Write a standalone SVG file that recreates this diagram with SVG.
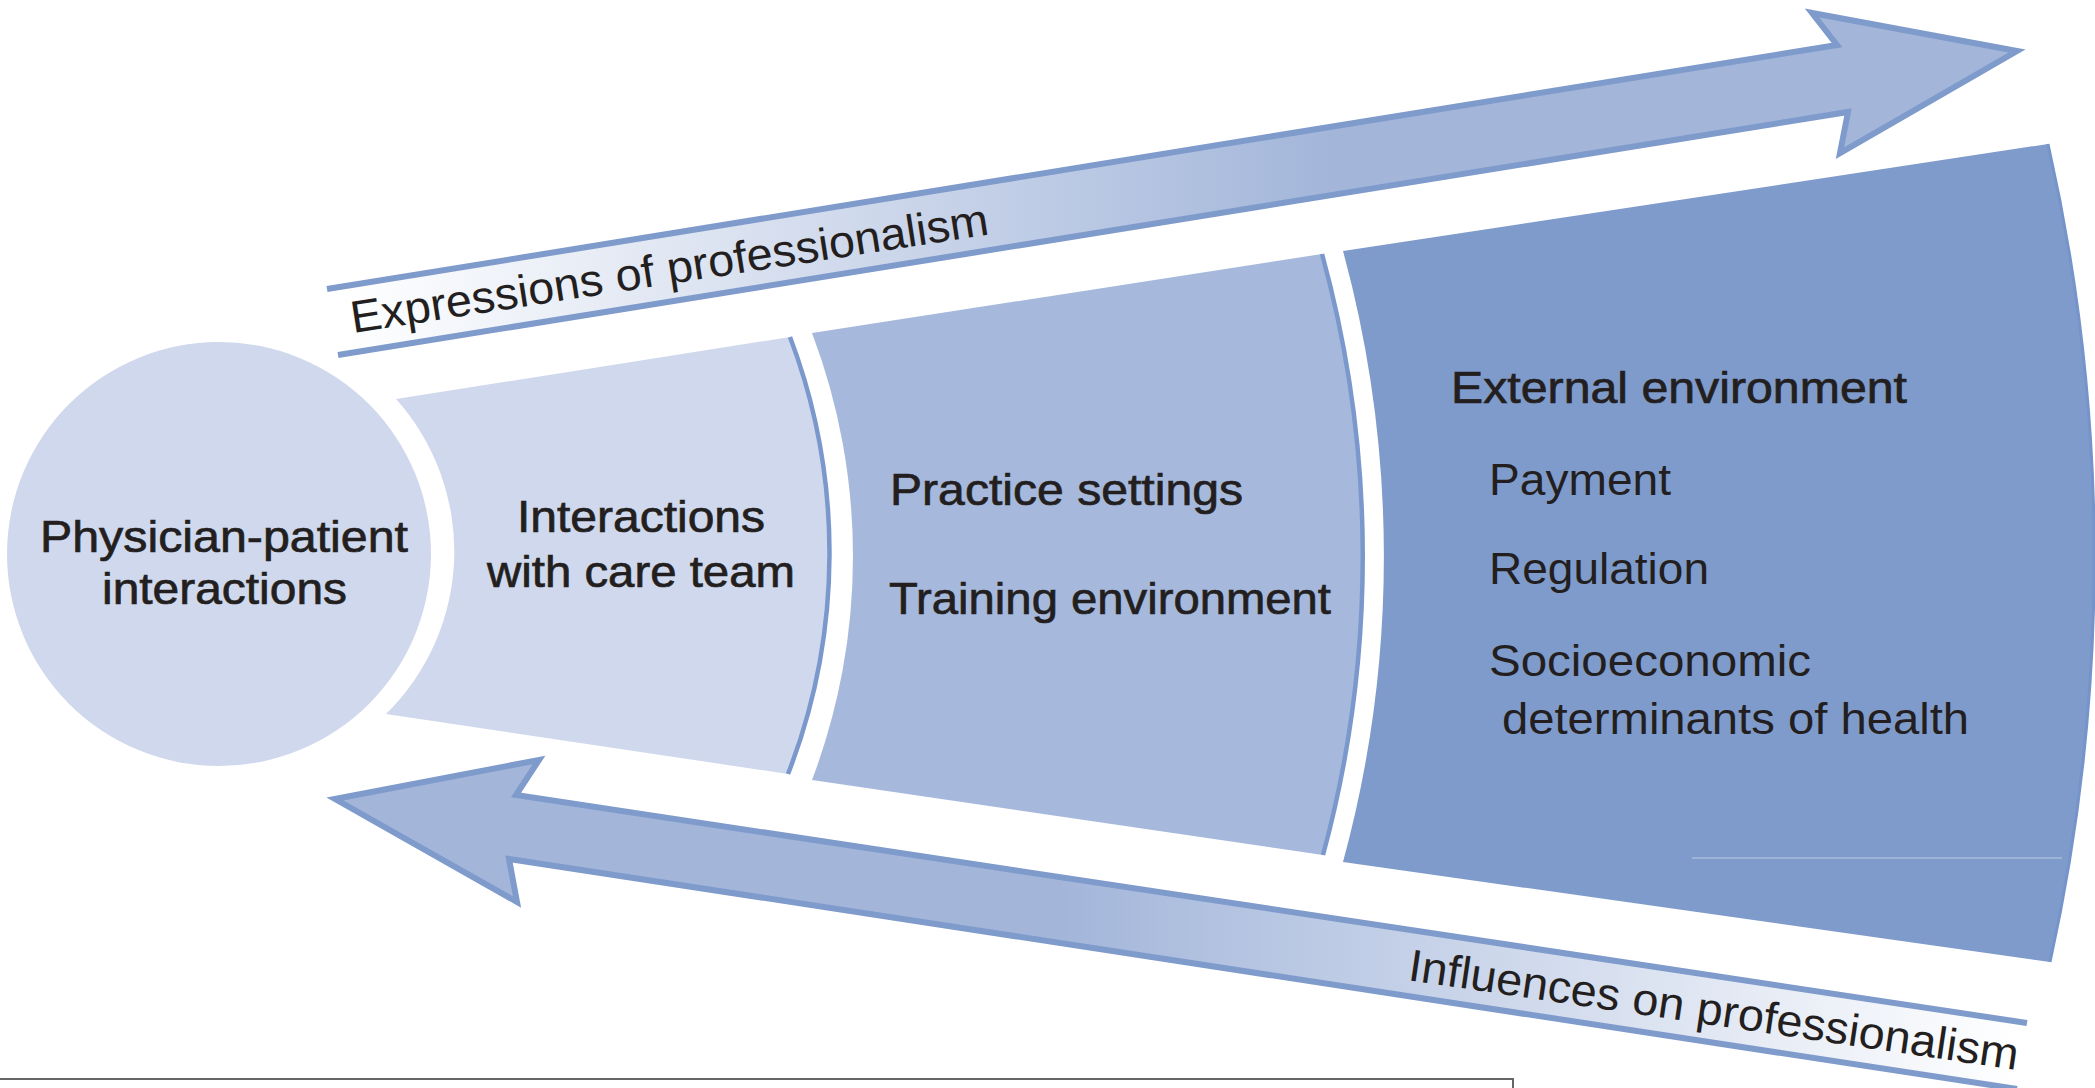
<svg xmlns="http://www.w3.org/2000/svg" width="2095" height="1088" viewBox="0 0 2095 1088">
  <style>
    .t { font-family: "Liberation Sans", Arial, sans-serif; font-size: 45px; fill: #231f20; }
    .h { stroke: #231f20; stroke-width: 0.7px; }
    .edge { fill: none; stroke: #7b98cc; stroke-width: 4.5; }
    .arrow { stroke: #7f9bcb; stroke-width: 6; stroke-linejoin: miter; }
  </style>
  <defs>
    <linearGradient id="gUp" gradientUnits="userSpaceOnUse" x1="340" y1="0" x2="1330" y2="0">
      <stop offset="0" stop-color="#ffffff"/>
      <stop offset="1" stop-color="#a3b6da"/>
    </linearGradient>
    <linearGradient id="gDown" gradientUnits="userSpaceOnUse" x1="2020" y1="0" x2="1060" y2="0">
      <stop offset="0" stop-color="#ffffff"/>
      <stop offset="1" stop-color="#a3b6da"/>
    </linearGradient>
  </defs>
  <rect width="2095" height="1088" fill="#ffffff"/>

  <g id="node-physician-patient">
    <circle cx="219" cy="554" r="212" fill="#cfd8ec"/>
    <text class="t h" x="40" y="552" textLength="368" lengthAdjust="spacingAndGlyphs">Physician-patient</text>
    <text class="t h" x="102" y="604" textLength="245" lengthAdjust="spacingAndGlyphs">interactions</text>
  </g>

  <g id="node-care-team">
    <path d="M396,399 L790,337 A610,610 0 0 1 788,774 L386,714 A228,228 0 0 0 396,399 Z" fill="#cfd8ec"/>
    <path class="edge" d="M790,337 A610,610 0 0 1 788,774"/>
    <text class="t h" x="517" y="532" textLength="248" lengthAdjust="spacingAndGlyphs">Interactions</text>
    <text class="t h" x="487" y="587" textLength="308" lengthAdjust="spacingAndGlyphs">with care team</text>
  </g>

  <g id="node-practice">
    <path d="M812,333 L1322,254 A1142,1142 0 0 1 1323,855 L812,780 A630,630 0 0 0 812,333 Z" fill="#a6b9dc"/>
    <path class="edge" d="M1322,254 A1142,1142 0 0 1 1323,855"/>
    <text class="t h" x="890" y="505" textLength="353" lengthAdjust="spacingAndGlyphs">Practice settings</text>
    <text class="t h" x="889" y="614" textLength="442" lengthAdjust="spacingAndGlyphs">Training environment</text>
  </g>

  <g id="node-external">
    <path d="M1343,251 L2048,144 A1873,1873 0 0 1 2050,962 L1343,862 A1162,1162 0 0 0 1343,251 Z" fill="#7f9bcb"/>
    <path d="M2048,144 A1873,1873 0 0 1 2050,962" fill="none" stroke="#7594ca" stroke-width="3"/>
    <line x1="1692" y1="858" x2="2062" y2="858" stroke="#a9bbdd" stroke-width="1.5"/>
    <text class="t h" x="1451" y="403" textLength="456" lengthAdjust="spacingAndGlyphs">External environment</text>
    <text class="t" x="1489" y="495" textLength="182" lengthAdjust="spacingAndGlyphs">Payment</text>
    <text class="t" x="1489" y="584" textLength="220" lengthAdjust="spacingAndGlyphs">Regulation</text>
    <text class="t" x="1489" y="676" textLength="322" lengthAdjust="spacingAndGlyphs">Socioeconomic</text>
    <text class="t" x="1502" y="734" textLength="467" lengthAdjust="spacingAndGlyphs">determinants of health</text>
  </g>

  <g id="connectors">
    <g id="arrow-expressions">
      <path class="arrow" fill="url(#gUp)" d="M327,289 L1837,45 L1812,13 L2017,51 L1840,153 L1848,112 L338,355"/>
      <text class="t" transform="translate(353,333) rotate(-8.8)" x="0" y="0" textLength="645" lengthAdjust="spacingAndGlyphs">Expressions of professionalism</text>
    </g>
    <g id="arrow-influences">
      <path class="arrow" fill="url(#gDown)" d="M2027,1023 L516,795 L539,760 L335,799 L517,902 L509,859 L2017,1089"/>
      <text class="t" transform="translate(1407,980) rotate(8.4)" x="0" y="0" textLength="616" lengthAdjust="spacingAndGlyphs">Influences on professionalism</text>
    </g>
  </g>

  <path d="M0,1079 L1513,1079 L1513,1088" fill="none" stroke="#666666" stroke-width="2"/>
</svg>
